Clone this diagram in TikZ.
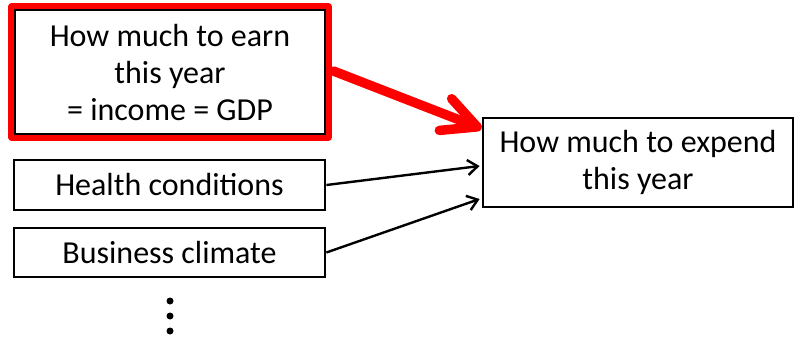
\documentclass[tikz,border=0pt]{standalone}
\usepackage{fontspec}
\setmainfont{Carlito}
\usetikzlibrary{arrows.meta}
\begin{document}
\begin{tikzpicture}[x=1pt,y=1pt,
  box/.style={draw=black, line width=2.8pt, align=center, inner sep=0pt,
    font=\fontsize{32}{37}\selectfont},
  feed/.style={draw=black, line width=2.4pt,
    -{Straight Barb[length=10pt,width=15pt]}},
  bigfeed/.style={draw=red, line width=9.5pt, line cap=round,
    -{Straight Barb[length=34pt,width=34pt,round]}}]
\useasboundingbox (0,0) rectangle (797,341);
% red frame behind the income box
\path (170,269) node[minimum width=310pt, minimum height=124pt, inner sep=0pt] (earnframe) {};
\draw[red, line width=7pt, line join=round]
  ([shift={(-3pt,3pt)}]earnframe.north west) rectangle ([shift={(3pt,-3pt)}]earnframe.south east);
% input boxes on the left
\node[box, minimum width=310pt, minimum height=124pt] (earn) at (170,269)
  {How much to earn\\this year\\= income = GDP};
\node[box, minimum width=311pt, minimum height=50pt] (health) at (169.5,156)
  {Health conditions};
\node[box, minimum width=311pt, minimum height=49pt] (business) at (169.5,88.5)
  {Business climate};
% continuation dots
\foreach \yy/\nm in {40/d1,25/d2,10/d3}
  \fill (170,\yy) circle (3.5pt) coordinate (\nm);
% target box
\node[box, minimum width=310pt, minimum height=89pt] (expend) at (638,178.5)
  {How much to expend\\this year};
% connectors
\coordinate (redtip) at ([yshift=-12pt]expend.north west);
\draw[bigfeed] ([xshift=7pt,yshift=1pt]earn.east) -- (redtip);
\draw[feed] (health.east) -- ([xshift=-2pt,yshift=-3.5pt]expend.west);
\draw[feed] (business.east) -- ([xshift=-2pt,yshift=-36.5pt]expend.west);
\end{tikzpicture}
\end{document}
